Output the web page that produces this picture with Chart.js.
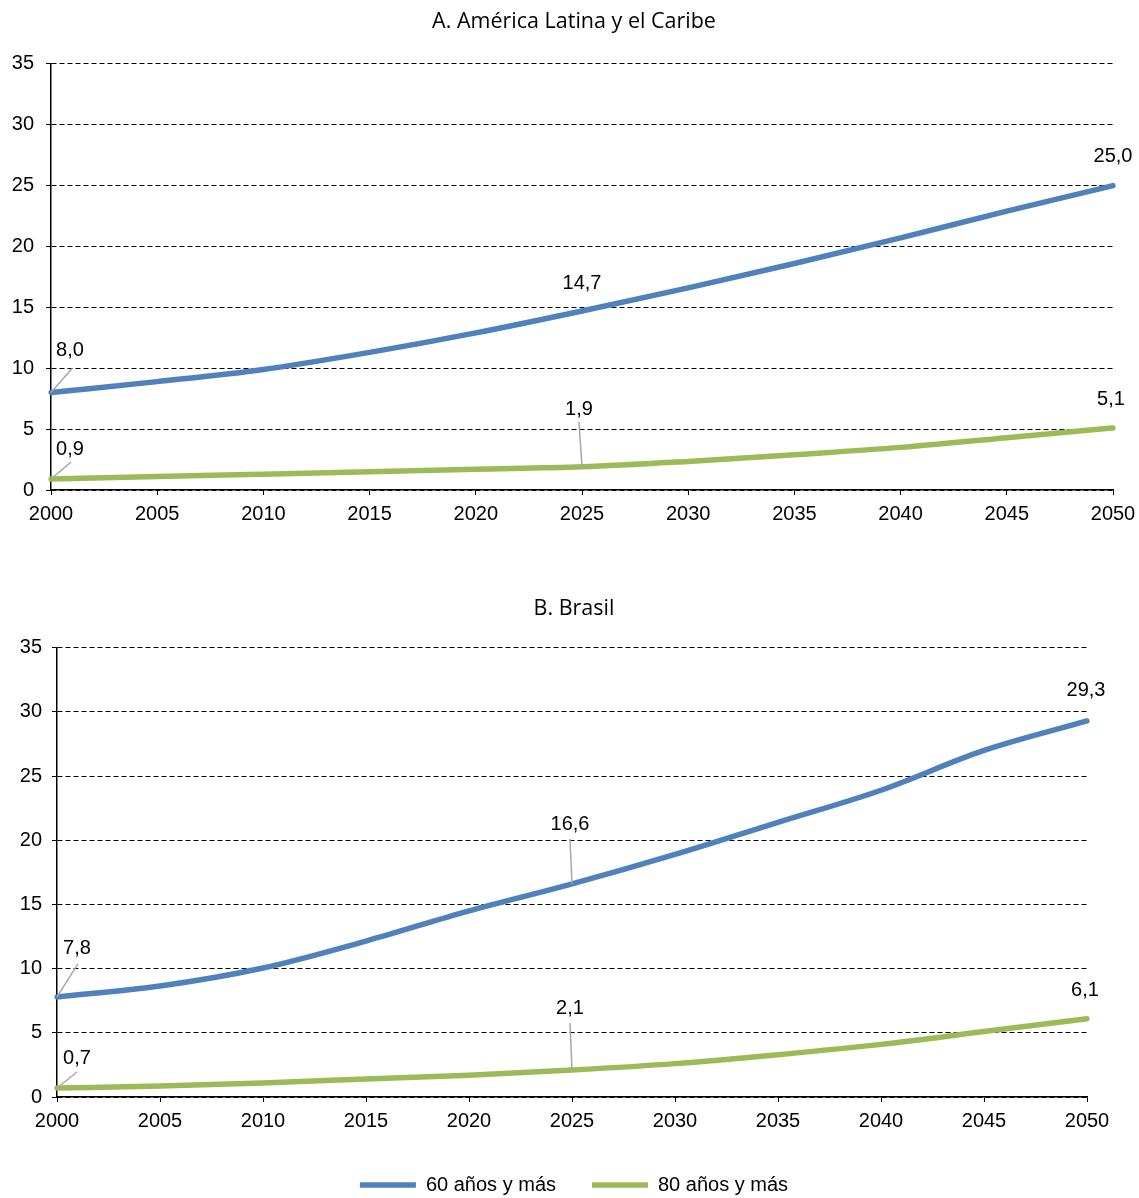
<!DOCTYPE html>
<html>
<head>
<meta charset="utf-8">
<script src="https://cdn.jsdelivr.net/npm/chart.js@4/dist/chart.umd.min.js"></script>
<style>
  html, body { margin: 0; padding: 0; background: #fff; overflow: hidden; width: 1139px; height: 1198px; }
  canvas { position: absolute; left: 0; }
  #cA { top: 0; }
  #cB { top: 560px; }
</style>
</head>
<body>
<canvas id="cA" width="1148" height="540"></canvas>
<canvas id="cB" width="1148" height="645"></canvas>
<script>
// ---- Data ----
const years = [2000, 2005, 2010, 2015, 2020, 2025, 2030, 2035, 2040, 2045, 2050];
const seriesNames = ['60 años y más', '80 años y más'];
const titleA = 'A. América Latina y el Caribe';
const titleB = 'B. Brasil';
const latam60 = [8.0, 8.9, 9.9, 11.3, 12.9, 14.7, 16.6, 18.6, 20.7, 22.9, 25.0];
const latam80 = [0.9, 1.1, 1.3, 1.5, 1.7, 1.9, 2.35, 2.9, 3.5, 4.3, 5.1];
const brasil60 = [7.8, 8.65, 10.05, 12.15, 14.5, 16.6, 18.9, 21.4, 23.9, 27.0, 29.3];
const brasil80 = [0.7, 0.85, 1.1, 1.4, 1.7, 2.1, 2.6, 3.3, 4.1, 5.1, 6.1];
const yTicks = [0, 5, 10, 15, 20, 25, 30, 35];

// ---- Styles ----
const BLUE = '#4F81BD';
const GREEN = '#9BBB59';
const FONT = '"Liberation Sans", Arial, sans-serif';
const TITLE_FONT = '"Open Sans", sans-serif';

// label annotations (which points get value labels, and where they sit)
const labelsA = [
  {ds: 0, i: 0, dx: 19, dy: -42, lx: 21, ly: -24},
  {ds: 1, i: 0, dx: 19, dy: -30, lx: 20, ly: -17},
  {ds: 0, i: 5, dx: 0, dy: -28},
  {ds: 1, i: 5, dx: -3, dy: -57, lx: -3, ly: -45},
  {ds: 0, i: 10, dx: 0, dy: -29},
  {ds: 1, i: 10, dx: -2, dy: -28}
];
const labelsB = [
  {ds: 0, i: 0, dx: 20, dy: -48, lx: 21, ly: -33},
  {ds: 1, i: 0, dx: 20, dy: -30, lx: 20, ly: -16},
  {ds: 0, i: 5, dx: -2, dy: -59, lx: -2, ly: -45},
  {ds: 1, i: 5, dx: -2, dy: -62, lx: -2, ly: -47},
  {ds: 0, i: 10, dx: -1, dy: -30},
  {ds: 1, i: 10, dx: -2, dy: -28}
];

const fmt = v => v.toFixed(1).replace('.', ',');

const valueLabels = {
  id: 'valueLabels',
  afterDatasetsDraw(chart, args, opts) {
    const ctx = chart.ctx;
    ctx.save();
    ctx.font = '20px ' + FONT;
    ctx.textAlign = 'center';
    ctx.textBaseline = 'middle';
    (opts.items || []).forEach(it => {
      const meta = chart.getDatasetMeta(it.ds);
      const pt = meta.data[it.i];
      const v = chart.data.datasets[it.ds].data[it.i];
      if (it.lx !== undefined) {
        ctx.strokeStyle = '#A6A6A6';
        ctx.lineWidth = 1.5;
        ctx.beginPath();
        ctx.moveTo(pt.x, pt.y);
        ctx.lineTo(pt.x + it.lx, pt.y + it.ly);
        ctx.stroke();
      }
      ctx.fillStyle = '#000';
      ctx.fillText(fmt(v), pt.x + it.dx, pt.y + it.dy);
    });
    ctx.restore();
  }
};

function makeChart(id, title, d60, d80, o) {
  return new Chart(document.getElementById(id), {
    type: 'line',
    data: {
      labels: years.map(String),
      datasets: [
        {label: seriesNames[0], data: d60, borderColor: BLUE, backgroundColor: BLUE, borderWidth: 5.5,
         pointRadius: 0, cubicInterpolationMode: 'monotone', borderCapStyle: 'round'},
        {label: seriesNames[1], data: d80, borderColor: GREEN, backgroundColor: GREEN, borderWidth: 5.5,
         pointRadius: 0, cubicInterpolationMode: 'monotone', borderCapStyle: 'round'}
      ]
    },
    options: {
      responsive: false,
      animation: false,
      devicePixelRatio: 1,
      layout: {padding: {left: 0, right: 0, top: 0, bottom: o.padBottom}},
      plugins: {
        title: {display: true, text: title, color: '#000',
                font: {family: TITLE_FONT, size: 21.5, weight: 'normal'},
                padding: {top: o.titleTop, bottom: o.titleBottom}},
        legend: o.legend ? {
          display: true, position: 'bottom',
          labels: {usePointStyle: true, pointStyle: 'line', pointStyleWidth: 56,
                   color: '#000', font: {family: FONT, size: 20}, padding: 36}
        } : {display: false},
        tooltip: {enabled: false},
        valueLabels: {items: o.items}
      },
      scales: {
        x: {
          offset: false,
          grid: {display: true, drawOnChartArea: false, drawTicks: true, tickLength: 5, color: '#000', lineWidth: 1},
          border: {display: true, color: '#000', width: 1.5},
          ticks: {color: '#000', font: {family: FONT, size: 20}, padding: 7, maxRotation: 0, autoSkip: false},
          afterFit(s) { s.height = o.xHeight; s.paddingRight = o.padRight; s.paddingLeft = 0; }
        },
        y: {
          min: 0, max: 35,
          afterBuildTicks(s) { s.ticks = yTicks.map(v => ({value: v})); },
          grid: {color: '#000', lineWidth: 1, tickLength: 5, tickColor: '#000'},
          border: {display: true, color: '#000', width: 1.5, dash: [5, 3]},
          ticks: {color: '#000', font: {family: FONT, size: 20}, padding: o.yPad},
          afterFit(s) { s.width = o.yWidth; }
        }
      }
    },
    plugins: [valueLabels]
  });
}

const cA = makeChart('cA', titleA, latam60, latam80,
  {padRight: 35, padBottom: 0, titleTop: 9, titleBottom: 29, xHeight: 50, yWidth: 51, yPad: 12, items: labelsA, legend: false});
const cB = makeChart('cB', titleB, brasil60, brasil80,
  {padRight: 61, padBottom: 0, titleTop: 36, titleBottom: 26, xHeight: 42, yWidth: 57, yPad: 10, items: labelsB, legend: true});
</script>
</body>
</html>
